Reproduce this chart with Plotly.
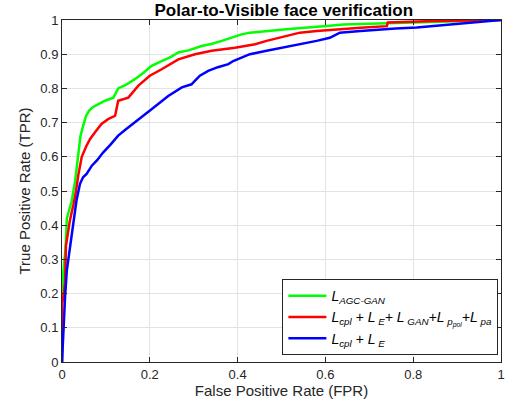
import plotly.graph_objects as go

# ---- data ----
green_x = [0, 0, 0.002, 0.005, 0.008, 0.011, 0.016, 0.022, 0.03, 0.037, 0.042, 0.048, 0.055, 0.062,
           0.07, 0.083, 0.098, 0.117, 0.128, 0.145, 0.166, 0.185, 0.204, 0.227, 0.245, 0.265, 0.29,
           0.318, 0.34, 0.364, 0.385, 0.409, 0.428, 0.44, 0.47, 0.504, 0.54, 0.58, 0.61, 0.641,
           0.69, 0.74, 0.8, 0.86, 0.92, 0.96, 1.0]
green_y = [0, 0.17, 0.25, 0.30, 0.33, 0.42, 0.44, 0.47, 0.53, 0.61, 0.66, 0.69, 0.72, 0.735,
           0.745, 0.754, 0.764, 0.773, 0.80, 0.81, 0.827, 0.845, 0.866, 0.88, 0.89, 0.905, 0.912,
           0.924, 0.93, 0.939, 0.948, 0.958, 0.963, 0.965, 0.968, 0.972, 0.975, 0.979, 0.983, 0.987,
           0.989, 0.990, 0.993, 0.996, 0.998, 0.999, 1.0]

red_x = [0, 0, 0.004, 0.007, 0.009, 0.013, 0.018, 0.026, 0.032, 0.037, 0.045, 0.055, 0.064, 0.077,
         0.09, 0.105, 0.121, 0.128, 0.151, 0.174, 0.2, 0.227, 0.245, 0.265, 0.303, 0.341, 0.394,
         0.44, 0.466, 0.5, 0.542, 0.58, 0.618, 0.68, 0.74, 0.742, 0.845, 1.0]
red_y = [0, 0.17, 0.20, 0.234, 0.34, 0.37, 0.414, 0.46, 0.50, 0.545, 0.60, 0.63, 0.652, 0.675,
         0.696, 0.71, 0.72, 0.764, 0.773, 0.808, 0.837, 0.856, 0.87, 0.885, 0.90, 0.91, 0.919,
         0.929, 0.939, 0.95, 0.963, 0.968, 0.972, 0.977, 0.982, 0.993, 0.997, 1.0]

blue_x = [0, 0.003, 0.005, 0.007, 0.011, 0.018, 0.026, 0.033, 0.041, 0.048, 0.056, 0.068, 0.08,
          0.094, 0.11, 0.128, 0.145, 0.166, 0.185, 0.204, 0.222, 0.242, 0.273, 0.295, 0.314, 0.333,
          0.355, 0.379, 0.39, 0.428, 0.466, 0.504, 0.54, 0.58, 0.61, 0.633, 0.68, 0.717, 0.76,
          0.808, 0.85, 0.884, 0.94, 1.0]
blue_y = [0, 0.093, 0.15, 0.19, 0.268, 0.336, 0.404, 0.472, 0.521, 0.54, 0.55, 0.574, 0.59,
          0.613, 0.635, 0.662, 0.68, 0.70, 0.72, 0.739, 0.758, 0.778, 0.803, 0.812, 0.837, 0.851,
          0.862, 0.871, 0.88, 0.90, 0.91, 0.919, 0.928, 0.939, 0.948, 0.963, 0.968, 0.972, 0.975,
          0.978, 0.983, 0.987, 0.992, 1.0]

names = [
    "<i>L<sub>AGC-GAN</sub></i>",
    "<i>L<sub>cpl</sub> + L<sub> E</sub>+ L<sub> GAN</sub>+L<sub> p<sub>pol</sub></sub>+L<sub> pa</sub></i>",
    "<i>L<sub>cpl</sub> + L<sub> E</sub></i>",
]
colors = ["#00ff00", "#ff0000", "#0000ff"]
x_ticks = [0, 0.2, 0.4, 0.6, 0.8, 1]
y_ticks = [0, 0.1, 0.2, 0.3, 0.4, 0.5, 0.6, 0.7, 0.8, 0.9, 1]

fig = go.Figure()
for xs, ys, nm, c in zip([green_x, red_x, blue_x], [green_y, red_y, blue_y], names, colors):
    fig.add_trace(go.Scatter(x=xs, y=ys, mode="lines", name=nm,
                             line=dict(color=c, width=2.5)))

axis_common = dict(
    showgrid=True, gridcolor="#e3e3e3", gridwidth=1,
    showline=True, linecolor="#262626", linewidth=1, mirror="ticks",
    ticks="inside", ticklen=5, tickcolor="#262626",
    zeroline=False, tickfont=dict(size=13, color="#262626"),
    automargin=False, ticklabeloverflow="allow",
)
fig.update_xaxes(range=[0, 1], tickvals=x_ticks, ticktext=[f"{v:g}" for v in x_ticks],
                 title=dict(text="False Positive Rate (FPR)", font=dict(size=15, color="#262626"),
                            standoff=4),
                 **axis_common)
fig.update_yaxes(range=[0, 1], tickvals=y_ticks, ticktext=[f"{v:g}" for v in y_ticks],
                 title=dict(text="True Positive Rate (TPR)", font=dict(size=15, color="#262626"),
                            standoff=6),
                 **axis_common)

fig.update_layout(
    width=505, height=409,
    margin=dict(l=62, r=4, t=20, b=47),
    paper_bgcolor="white", plot_bgcolor="white",
    font=dict(family="Liberation Sans, Arial, sans-serif", color="#262626"),
    title=dict(text="<b>Polar-to-Visible face verification</b>", x=0.562, xanchor="center",
               y=0.975, yanchor="middle", font=dict(size=17, color="#000000")),
    legend=dict(x=0.502, y=0.02, xanchor="left", yanchor="bottom",
                bgcolor="white", bordercolor="#262626", borderwidth=1, itemwidth=38,
                font=dict(size=14, color="#000000"), tracegroupgap=0),
    showlegend=True,
)

fig.write_html("out.html", config={"displayModeBar": False},
               post_script="document.body.style.margin='0';document.body.style.padding='0';")
